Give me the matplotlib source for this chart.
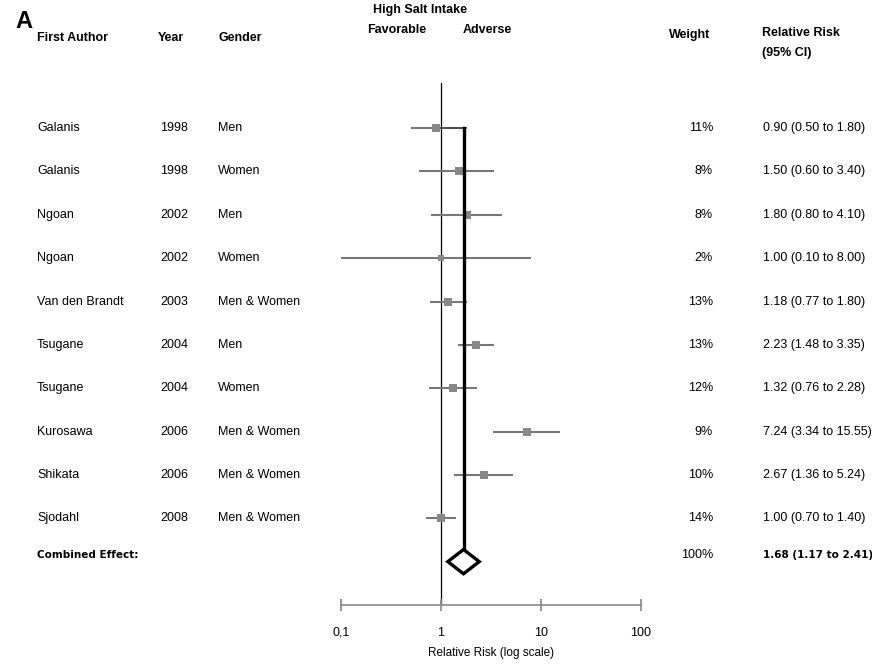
import matplotlib.pyplot as plt
from matplotlib.patches import Polygon
from matplotlib.transforms import blended_transform_factory

plt.rcParams['font.family'] = ['Liberation Sans', 'DejaVu Sans']

authors = ["Galanis", "Galanis", "Ngoan", "Ngoan", "Van den Brandt", "Tsugane",
           "Tsugane", "Kurosawa", "Shikata", "Sjodahl"]
years = ["1998", "1998", "2002", "2002", "2003", "2004", "2004", "2006", "2006", "2008"]
genders = ["Men", "Women", "Men", "Women", "Men & Women", "Men", "Women",
           "Men & Women", "Men & Women", "Men & Women"]
weights = [11, 8, 8, 2, 13, 13, 12, 9, 10, 14]
rr = [0.90, 1.50, 1.80, 1.00, 1.18, 2.23, 1.32, 7.24, 2.67, 1.00]
lo = [0.50, 0.60, 0.80, 0.10, 0.77, 1.48, 0.76, 3.34, 1.36, 0.70]
hi = [1.80, 3.40, 4.10, 8.00, 1.80, 3.35, 2.28, 15.55, 5.24, 1.40]
pooled = 1.68
pooled_lo = 1.17
pooled_hi = 2.41
pooled_weight = "100%"
ticks = [0.1, 1, 10, 100]
tick_labels = ["0,1", "1", "10", "100"]

W, H = 872, 666
fig = plt.figure(figsize=(W / 100, H / 100), dpi=100)

def fx(px):
    return px / W

def fy(py):
    return 1 - py / H

ax = fig.add_axes([fx(341), fy(605), fx(641) - fx(341), fy(83) - fy(605)])
ax.set_xscale('log')
ax.set_xlim(0.1, 100)
ax.set_ylim(11, -1.04)

rows = list(range(len(authors)))
comb_y = 10.0

# study estimates
for i in rows:
    ax.plot([lo[i], hi[i]], [i, i], color='#777777', lw=1.5, solid_capstyle='butt', zorder=2)
    ax.plot(rr[i], i, marker='s', color='#888888', markersize=4.5 + weights[i] * 0.12,
            markeredgewidth=0, zorder=3)

# line of no effect and pooled line
ax.axvline(1, color='black', lw=0.9, zorder=1)
ax.plot([pooled, pooled], [0, comb_y - 0.28], color='black', lw=2.4, zorder=4)
ax.plot([rr[0], pooled], [0, 0], color='#444444', lw=1.2, zorder=2)

# combined diamond
dh = 0.28
diamond = Polygon([(pooled_lo, comb_y), (pooled, comb_y - dh), (pooled_hi, comb_y),
                   (pooled, comb_y + dh)], closed=True, facecolor='white',
                  edgecolor='black', lw=2.4, zorder=5)
ax.add_patch(diamond)

# axis styling
for s in ['top', 'right', 'left']:
    ax.spines[s].set_visible(False)
ax.spines['bottom'].set_color('#888888')
ax.spines['bottom'].set_linewidth(1.2)
ax.set_yticks([])
ax.set_xticks(ticks)
ax.set_xticklabels(tick_labels)
ax.minorticks_off()
ax.tick_params(axis='x', direction='inout', length=9, width=1.2, color='#888888',
               pad=11, labelsize=9)
ax.set_xlabel("Relative Risk (log scale)", fontsize=8.5, labelpad=6)

# table columns
tr = blended_transform_factory(fig.transFigure, ax.transData)
fs = 9
for i in rows:
    ax.text(fx(37), i, authors[i], transform=tr, fontsize=fs, va='center')
    ax.text(fx(160), i, years[i], transform=tr, fontsize=fs, va='center')
    ax.text(fx(218), i, genders[i], transform=tr, fontsize=fs, va='center')
    ax.text(fx(713), i, f"{weights[i]}%", transform=tr, fontsize=fs, va='center', ha='right')
    ax.text(fx(763), i, f"{rr[i]:.2f} ({lo[i]:.2f} to {hi[i]:.2f})", transform=tr,
            fontsize=fs, va='center')

ax.text(fx(37), comb_y - 0.15, "Combined Effect:", transform=tr, fontsize=7.5,
        fontweight='bold', va='center', family='DejaVu Sans')
ax.text(fx(713), comb_y - 0.15, pooled_weight, transform=tr, fontsize=fs, va='center', ha='right')
ax.text(fx(763), comb_y - 0.15, f"{pooled:.2f} ({pooled_lo:.2f} to {pooled_hi:.2f})",
        transform=tr, fontsize=7.5, fontweight='bold', va='center', family='DejaVu Sans')

# headers
fig.text(fx(15), fy(22), "A", fontsize=17, fontweight='bold', va='center')
hb = dict(fontsize=9, fontweight='bold', va='center')
fig.text(fx(37), fy(38), "First Author", **hb)
fig.text(fx(158), fy(38), "Year", **hb)
fig.text(fx(218), fy(38), "Gender", **hb)
fig.text(fx(420), fy(10), "High Salt Intake", ha='center', **hb)
fig.text(fx(397), fy(30), "Favorable", ha='center', **hb)
fig.text(fx(487), fy(30), "Adverse", ha='center', **hb)
fig.text(fx(690), fy(35), "Weight", ha='center', **hb)
fig.text(fx(762), fy(33), "Relative Risk", **hb)
fig.text(fx(762), fy(53), "(95% CI)", **hb)

fig.savefig("out.png", dpi=100)
